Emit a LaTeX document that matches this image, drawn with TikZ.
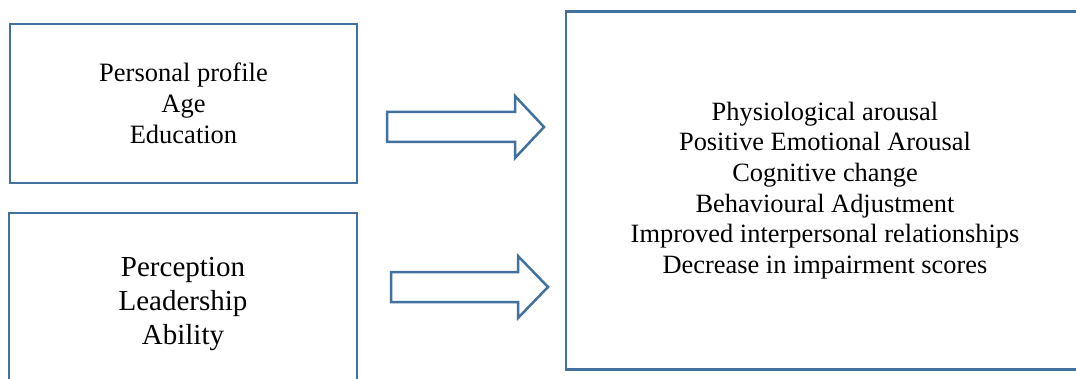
\documentclass[tikz,border=0pt]{standalone}
\usepackage{fontspec}
\setmainfont{Liberation Serif}
\usepackage{xcolor}
\usepackage{tikz}
\usetikzlibrary{positioning}

\definecolor{frameblue}{RGB}{65,113,156}

\begin{document}
\begin{tikzpicture}[
    x=1pt, y=1pt,
    box/.style={rectangle, draw=frameblue, line width=2.6pt, align=center, inner sep=0pt},
    blockarrow/.style={draw=frameblue, line width=2.5pt, fill=white, line join=miter}
]
\useasboundingbox (0,0) rectangle (1076,378);
\clip (0,0) rectangle (1076,378);

% Input boxes
\node[box, minimum width=347pt, minimum height=159pt, font=\fontsize{26.5}{31}\selectfont] (profile) at (183.5,274.5) {Personal profile\\Age\\Education};
\node[box, minimum width=348pt, minimum height=182pt, font=\fontsize{29}{34}\selectfont] (perception) at (183,74) {Perception\\Leadership\\Ability};

% Outcome box
\node[box, minimum width=518pt, minimum height=357.5pt, font=\fontsize{26.4}{30.6}\selectfont] (outcome) at (825,187.5) {Physiological arousal\\Positive Emotional Arousal\\Cognitive change\\Behavioural Adjustment\\Improved interpersonal relationships\\Decrease in impairment scores};

% Block arrows
\coordinate (arrowone) at (387,251);
\coordinate (arrowtwo) at (391,91);
\draw[blockarrow] (arrowone) -- ++(0,15) -- ++(128,0) -- ++(0,16) -- ++(29,-31) -- ++(-29,-31) -- ++(0,16) -- ++(-128,0) -- cycle;
\draw[blockarrow] (arrowtwo) -- ++(0,15) -- ++(127,0) -- ++(0,16) -- ++(30,-31) -- ++(-30,-31) -- ++(0,16) -- ++(-127,0) -- cycle;

\end{tikzpicture}
\end{document}
